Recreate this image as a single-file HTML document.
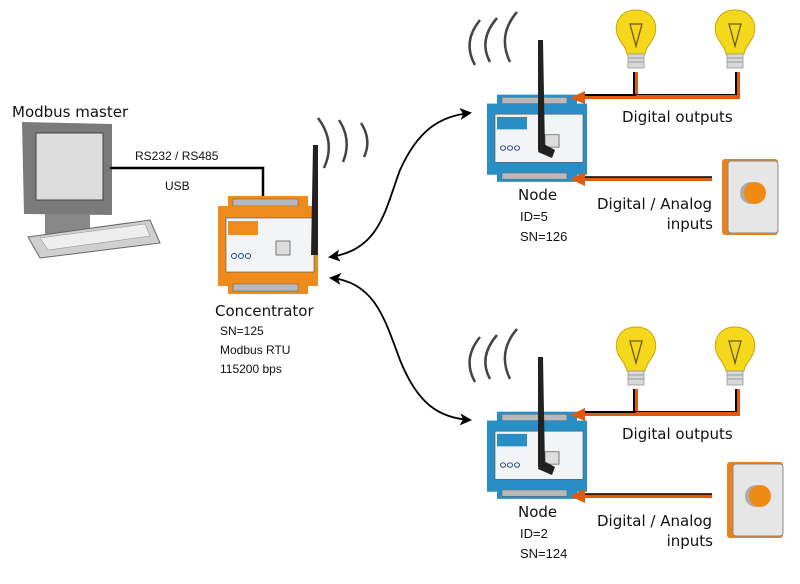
<!DOCTYPE html>
<html><head><meta charset="utf-8"><style>
html,body{margin:0;padding:0;background:#fff;}
svg{display:block;}
text{font-family:"Liberation Sans",sans-serif;fill:#111;}
.d{font-family:"DejaVu Sans","Liberation Sans",sans-serif;}
</style></head><body>
<svg width="800" height="584" viewBox="0 0 800 584" xmlns="http://www.w3.org/2000/svg">
<defs>
<marker id="ah" markerWidth="12" markerHeight="12" refX="10" refY="6" orient="auto-start-reverse" markerUnits="userSpaceOnUse">
<path d="M0,0 L12,6 L0,12 L3,6 Z" fill="#000"/></marker>
<g id="bulb">
<path d="M0,0 C-15,0 -22,12 -19,24 C-17,32 -10,36 -9,44 L9,44 C10,36 17,32 19,24 C22,12 15,0 0,0Z" fill="#f5d81c" stroke="#c9a70a" stroke-width="1"/>
<path d="M-6,14 L6,14 L0,36 Z" fill="none" stroke="#6b5a10" stroke-width="1.3"/>
<rect x="-8" y="44" width="16" height="14" fill="#d8d8d8" stroke="#999" stroke-width="0.8"/>
<line x1="-8" y1="48" x2="8" y2="48" stroke="#999"/><line x1="-8" y1="52" x2="8" y2="52" stroke="#999"/>
</g>
<g id="btn">
<rect x="0" y="0" width="56" height="76" rx="3" fill="#e8821e"/>
<rect x="6" y="2" width="50" height="72" rx="3" fill="#e6e6e6" stroke="#888"/>
<circle cx="29" cy="34" r="11" fill="#aaa"/><circle cx="33" cy="34" r="11" fill="#f08a12"/>
</g>
<g id="dev">
<rect x="10" y="0" width="80" height="14" fill="currentColor"/>
<rect x="15" y="3" width="65" height="7" fill="#b9b9b9" stroke="#666" stroke-width="0.6"/>
<rect x="0" y="10" width="100" height="80" fill="currentColor"/>
<rect x="8" y="22" width="88" height="54" fill="#f2f4f6" stroke="#555" stroke-width="0.6"/>
<rect x="10" y="25" width="30" height="14" fill="currentColor"/>
<rect x="58" y="45" width="14" height="14" fill="#ddd" stroke="#777"/>
<circle cx="16" cy="60" r="2.5" fill="none" stroke="#248" /><circle cx="23" cy="60" r="2.5" fill="none" stroke="#248"/><circle cx="30" cy="60" r="2.5" fill="none" stroke="#248"/>
<rect x="10" y="86" width="80" height="12" fill="currentColor"/>
<rect x="15" y="88" width="65" height="7" fill="#b9b9b9" stroke="#666" stroke-width="0.6"/>
</g>
</defs>

<!-- Modbus master -->
<text x="12" y="117" font-size="15" class="d">Modbus master</text>
<polygon points="22,122 112,124 112,215 24,214" fill="#7a7a7a"/>
<rect x="36" y="133" width="67" height="67" fill="#dcdcdc" stroke="#444"/>
<rect x="45" y="214" width="45" height="20" fill="#888"/>
<polygon points="28,237 150,220 160,243 40,258" fill="#cfcfcf" stroke="#666"/>
<polygon points="40,238 145,224 150,236 48,250" fill="#eee" stroke="#999" stroke-width="0.6"/>
<polyline points="110,168 263,168 263,200" fill="none" stroke="#000" stroke-width="2.5"/>
<text x="135" y="160" font-size="12">RS232 / RS485</text>
<text x="165" y="190" font-size="12">USB</text>

<!-- Concentrator -->
<use href="#dev" x="218" y="196" style="color:#ef8a1c"/>
<path d="M313,145 L318,145 L318,255 L311,255Z" fill="#222"/>
<path d="M318,118 Q336,142 324,168" fill="none" stroke="#444" stroke-width="2.5"/>
<path d="M339,120 Q352,140 343,162" fill="none" stroke="#444" stroke-width="2.5"/>
<path d="M361,123 Q372,140 364,157" fill="none" stroke="#444" stroke-width="2.5"/>
<text x="215" y="316" font-size="15" class="d">Concentrator</text>
<text x="220" y="335" font-size="12">SN=125</text>
<text x="220" y="354" font-size="12">Modbus RTU</text>
<text x="220" y="373" font-size="12">115200  bps</text>

<!-- arrows -->
<path d="M330,257 C380,250 385,210 400,170 C418,130 440,116 470,113" fill="none" stroke="#000" stroke-width="1.8" marker-start="url(#ah)" marker-end="url(#ah)"/>
<path d="M331,278 C375,282 385,320 400,360 C418,405 440,418 470,420" fill="none" stroke="#000" stroke-width="1.8" marker-start="url(#ah)" marker-end="url(#ah)"/>

<!-- Node groups -->
<g id="grp">
<use href="#dev" x="487" y="94" transform="translate(0,11) scale(1,0.89)" style="color:#2a8ec6"/>
<path d="M538,40 L543,40 L545,150 L538,150Z" fill="#222"/>
<path d="M540,142 L555,150 L552,158 L538,152Z" fill="#222"/>
<path d="M480,20 Q462,42 475,65" fill="none" stroke="#444" stroke-width="2.5"/>
<path d="M497,18 Q478,40 490,62" fill="none" stroke="#444" stroke-width="2.5"/>
<path d="M517,12 Q497,35 510,62" fill="none" stroke="#444" stroke-width="2.5"/>
<use href="#bulb" x="636" y="10"/>
<use href="#bulb" x="735" y="10"/>
<polyline points="636,72 636,97 738,97 738,72" fill="none" stroke="#e05a10" stroke-width="4"/>
<polyline points="634,72 634,95 736,95 736,72" fill="none" stroke="#000" stroke-width="2"/>
<line x1="580" y1="97" x2="738" y2="97" stroke="#e05a10" stroke-width="4"/>
<line x1="580" y1="95" x2="636" y2="95" stroke="#000" stroke-width="2"/>
<polygon points="570,98 585,91 585,104" fill="#e05a10"/>
<text x="622" y="122" font-size="15" class="d">Digital outputs</text>
<line x1="580" y1="179" x2="712" y2="179" stroke="#e05a10" stroke-width="4"/>
<line x1="580" y1="177" x2="712" y2="177" stroke="#000" stroke-width="1.5"/>
<polygon points="570,179 585,172 585,186" fill="#e05a10"/>
<text x="597" y="209" font-size="15" class="d">Digital / Analog</text>
<text x="713" y="229" font-size="15" text-anchor="end" class="d">inputs</text>
<text x="518" y="200" font-size="15" class="d">Node</text>
</g>
<use href="#btn" x="722" y="159"/>
<text x="520" y="221" font-size="13">ID=5</text>
<text x="520" y="241" font-size="13">SN=126</text>

<use href="#grp" x="0" y="317"/>
<use href="#btn" x="727" y="462"/>
<text x="520" y="538" font-size="13">ID=2</text>
<text x="520" y="558" font-size="13">SN=124</text>
</svg>
</body></html>
